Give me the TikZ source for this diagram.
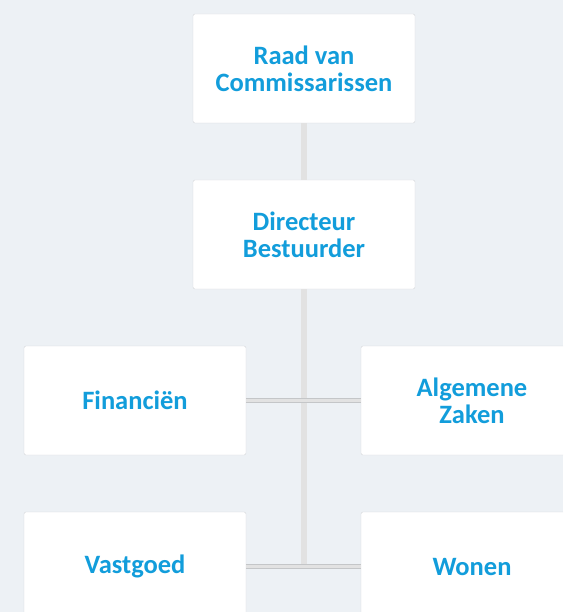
\documentclass[tikz,border=0pt]{standalone}
\usepackage{fontspec}
\setmainfont{Carlito}
\usetikzlibrary{positioning}
\definecolor{orgblue}{HTML}{129DDB}
\definecolor{pagebg}{HTML}{EDF1F5}
\definecolor{linkgray}{HTML}{E2E2E2}
\definecolor{linkedge}{HTML}{C4C6C8}
\definecolor{boxedge}{HTML}{D3D6D9}

\begin{document}
\begin{tikzpicture}[x=1pt,y=-1pt,
  orgbox/.style={draw=boxedge,fill=white,rounded corners=2pt,
    minimum width=222pt,minimum height=109pt,inner sep=0pt,align=center,
    text=orgblue,font=\fontsize{26.5}{27}\selectfont\bfseries},
  trunk/.style={draw=linkgray,line width=6pt},
  bar/.style={draw=linkedge,double=linkgray,double distance=3.4pt,line width=0.7pt}]
  \clip (0,0) rectangle (563,612);
  \fill[pagebg] (0,0) rectangle (563,612);

  % boxes
  \node[orgbox] (rvc) at (304,68.5) {Raad van\\Commissarissen};
  \node[orgbox] (dir) at (304,234.5) {Directeur\\Bestuurder};
  \node[orgbox] (fin) at (135,400.5) {Financiën};
  \node[orgbox] (alg) at (472,400.5) {Algemene\\Zaken};
  \node[orgbox] (vast) at (135,566.5) {Vastgoed};
  \node[orgbox] (won) at (472,566.5) {Wonen};

  % lines
  \draw[trunk] (rvc.south) -- (dir.north);
  \draw[trunk] (dir.south) -- (dir.south |- vast.east);
  \draw[bar] (fin.east) -- (alg.west);
  \draw[bar] (vast.east) -- (won.west);
\end{tikzpicture}
\end{document}
